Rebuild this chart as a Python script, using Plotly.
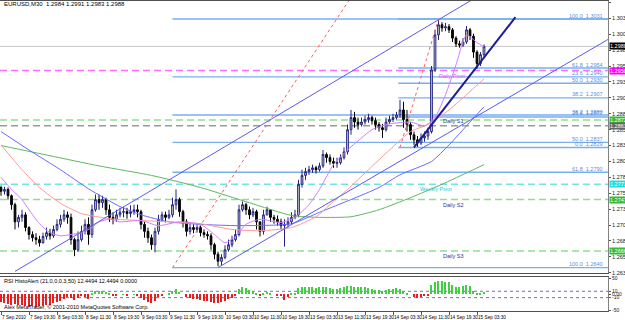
import plotly.graph_objects as go

# ---------------- data (one bar per hour of the M30 chart) ----------------
first_open = 1.2766
closes = [1.2760, 1.2763, 1.2753, 1.2739, 1.2712, 1.2719, 1.2723, 1.2703, 1.2692, 1.2687,
          1.2684, 1.2679, 1.2689, 1.2695, 1.2690, 1.2700, 1.2708, 1.2716, 1.2723, 1.2719,
          1.2684, 1.2668, 1.2684, 1.2697, 1.2708, 1.2692, 1.2731, 1.2747, 1.2742, 1.2747,
          1.2731, 1.2719, 1.2716, 1.2723, 1.2727, 1.2728, 1.2725, 1.2728, 1.2731, 1.2728,
          1.2708, 1.2697, 1.2687, 1.2676, 1.2697, 1.2716, 1.2723, 1.2719, 1.2723, 1.2739,
          1.2747, 1.2728, 1.2712, 1.2697, 1.2703, 1.2700, 1.2703, 1.2695, 1.2692, 1.2690,
          1.2676, 1.2661, 1.2650, 1.2656, 1.2668, 1.2676, 1.2684, 1.2692, 1.2731, 1.2739,
          1.2731, 1.2723, 1.2728, 1.2712, 1.2697, 1.2723, 1.2731, 1.2719, 1.2716, 1.2712,
          1.2706, 1.2708, 1.2712, 1.2719, 1.2723, 1.2771, 1.2785, 1.2791, 1.2794, 1.2797,
          1.2794, 1.2800, 1.2818, 1.2813, 1.2807, 1.2804, 1.2805, 1.2813, 1.2822, 1.2857,
          1.2876, 1.2869, 1.2865, 1.2869, 1.2873, 1.2876, 1.2871, 1.2865, 1.2860, 1.2857,
          1.2869, 1.2873, 1.2876, 1.2880, 1.2888, 1.2873, 1.2865, 1.2849, 1.2841, 1.2836,
          1.2844, 1.2847, 1.2854, 1.2951, 1.3006, 1.3022, 1.3017, 1.3019, 1.3014, 1.3001,
          1.2992, 1.2990, 1.2995, 1.3014, 1.3004, 1.2979, 1.2961, 1.2975, 1.2988]
highs = [1.2769, 1.2767, 1.2766, 1.2755, 1.2742, 1.2723, 1.2731, 1.2727, 1.2705, 1.2697,
         1.2694, 1.2690, 1.2695, 1.2703, 1.2701, 1.2706, 1.2716, 1.2723, 1.2731, 1.2728,
         1.2725, 1.2687, 1.2697, 1.2706, 1.2716, 1.2719, 1.2739, 1.2755, 1.2755, 1.2753,
         1.2750, 1.2739, 1.2727, 1.2731, 1.2734, 1.2736, 1.2734, 1.2738, 1.2739, 1.2739,
         1.2731, 1.2712, 1.2703, 1.2692, 1.2703, 1.2723, 1.2728, 1.2728, 1.2731, 1.2750,
         1.2763, 1.2750, 1.2731, 1.2716, 1.2709, 1.2708, 1.2708, 1.2706, 1.2700, 1.2697,
         1.2694, 1.2679, 1.2665, 1.2661, 1.2675, 1.2684, 1.2690, 1.2700, 1.2739, 1.2744,
         1.2742, 1.2736, 1.2734, 1.2731, 1.2712, 1.2731, 1.2736, 1.2731, 1.2723, 1.2722,
         1.2717, 1.2716, 1.2719, 1.2727, 1.2731, 1.2778, 1.2794, 1.2797, 1.2800, 1.2802,
         1.2800, 1.2805, 1.2825, 1.2821, 1.2818, 1.2813, 1.2813, 1.2818, 1.2829, 1.2865,
         1.2888, 1.2885, 1.2876, 1.2876, 1.2879, 1.2882, 1.2879, 1.2876, 1.2869, 1.2866,
         1.2876, 1.2879, 1.2882, 1.2885, 1.2904, 1.2901, 1.2888, 1.2869, 1.2854, 1.2847,
         1.2851, 1.2854, 1.2860, 1.2957, 1.3014, 1.3030, 1.3026, 1.3025, 1.3023, 1.3017,
         1.3004, 1.2997, 1.3001, 1.3020, 1.3017, 1.3008, 1.2982, 1.2979, 1.2991]
lows = [1.2753, 1.2755, 1.2747, 1.2731, 1.2700, 1.2703, 1.2712, 1.2697, 1.2684, 1.2681,
        1.2676, 1.2673, 1.2678, 1.2684, 1.2684, 1.2687, 1.2697, 1.2703, 1.2712, 1.2709,
        1.2676, 1.2658, 1.2665, 1.2681, 1.2692, 1.2676, 1.2687, 1.2728, 1.2731, 1.2734,
        1.2723, 1.2712, 1.2708, 1.2712, 1.2719, 1.2719, 1.2717, 1.2719, 1.2723, 1.2719,
        1.2700, 1.2687, 1.2679, 1.2668, 1.2664, 1.2692, 1.2712, 1.2711, 1.2716, 1.2719,
        1.2731, 1.2720, 1.2703, 1.2689, 1.2692, 1.2694, 1.2695, 1.2689, 1.2687, 1.2684,
        1.2668, 1.2653, 1.2642, 1.2643, 1.2653, 1.2665, 1.2672, 1.2681, 1.2689, 1.2728,
        1.2723, 1.2716, 1.2719, 1.2700, 1.2689, 1.2692, 1.2722, 1.2712, 1.2709, 1.2706,
        1.2700, 1.2673, 1.2703, 1.2708, 1.2716, 1.2719, 1.2766, 1.2778, 1.2786, 1.2789,
        1.2788, 1.2791, 1.2797, 1.2805, 1.2802, 1.2797, 1.2797, 1.2802, 1.2810, 1.2818,
        1.2849, 1.2860, 1.2857, 1.2862, 1.2865, 1.2868, 1.2865, 1.2857, 1.2854, 1.2844,
        1.2854, 1.2866, 1.2869, 1.2873, 1.2876, 1.2860, 1.2854, 1.2841, 1.2833, 1.2830,
        1.2833, 1.2838, 1.2841, 1.2851, 1.2948, 1.2998, 1.3011, 1.3012, 1.3009, 1.2995,
        1.2987, 1.2986, 1.2987, 1.2992, 1.2998, 1.2970, 1.2953, 1.2957, 1.2972]

rsi_hist = [-25, -28, -30, -32, -30, -32, -34, -36, -38, -36,
            -38, -37, -35, -33, -32, -28, -24, -20, -15, -8,
            -12, -18, -10, -5, -8, -15, 3, 10, 12, 11,
            8, 2, -3, -2, 0, 1, -2, 0, 1, -2,
            -10, -18, -24, -28, -22, -8, -3, 0, 5, 12,
            16, 8, 0, -8, -12, -14, -15, -18, -20, -20,
            -24, -27, -28, -25, -20, -15, -10, -4, 18, 22,
            20, 15, 12, 3, -2, 5, 8, 3, 0, -3,
            -6, -18, -8, 2, 6, 20, 24, 22, 22, 24,
            20, 22, 25, 22, 20, 18, 18, 20, 22, 26,
            28, 25, 22, 22, 22, 20, 18, 15, 14, 12,
            15, 16, 17, 20, 18, 12, 6, 0, -8, -10,
            -7, -5, -2, 30, 40, 44, 42, 40, 38, 30,
            25, 24, 26, 30, 26, 12, 3, 5, 8]

# moving averages (bar index, price)
ma_fast_bars = [0, 3, 6, 8, 11, 14, 17, 20, 23, 26, 28, 31, 34, 40, 45, 51, 57, 61, 64, 67,
                70, 74, 80, 84, 88, 91, 95, 100, 103, 106, 111, 117, 121, 124, 127, 130, 133, 136, 138]
ma_fast_vals = [1.2782, 1.2763, 1.2747, 1.2731, 1.2709, 1.2695, 1.2690, 1.2692, 1.2695, 1.2703,
                1.2712, 1.2716, 1.2712, 1.2714, 1.2706, 1.2712, 1.2708, 1.2692, 1.2679, 1.2689,
                1.2708, 1.2716, 1.2711, 1.2719, 1.2739, 1.2763, 1.2802, 1.2830, 1.2844, 1.2857,
                1.2866, 1.2869, 1.2863, 1.2876, 1.2912, 1.2959, 1.3006, 1.2994, 1.2987]
ma_mid_bars = [0, 6, 11, 17, 23, 31, 40, 48, 57, 66, 74, 83, 90, 94, 99, 105, 111, 117, 122, 128, 134, 138]
ma_mid_vals = [1.2833, 1.2794, 1.2766, 1.2741, 1.2725, 1.2717, 1.2714, 1.2712, 1.2709, 1.2700,
               1.2698, 1.2703, 1.2720, 1.2739, 1.2763, 1.2794, 1.2825, 1.2854, 1.2865, 1.2888,
               1.2917, 1.2937]
ma_blue_bars = [0, 8, 17, 25, 34, 40, 48, 57, 68, 83, 91, 100, 108, 114, 123, 128, 134, 138]
ma_blue_vals = [1.2854, 1.2825, 1.2794, 1.2764, 1.2736, 1.2723, 1.2712, 1.2708, 1.2706, 1.2709,
                1.2727, 1.2747, 1.2766, 1.2786, 1.2807, 1.2833, 1.2869, 1.2893]
ma_slow_bars = [0, 14, 28, 43, 57, 71, 83, 91, 100, 108, 117, 126, 138]
ma_slow_vals = [1.2832, 1.2816, 1.2800, 1.2785, 1.2766, 1.2742, 1.2722, 1.2719, 1.2720, 1.2731,
                1.2750, 1.2771, 1.2802]

# trend lines (bar index, price) anchor pairs
chan_up_bars, chan_up_vals = [4, 140], [1.2634, 1.3079]
chan_lo_bars, chan_lo_vals = [62, 175], [1.2640, 1.3004]
trend_bars, trend_vals = [118, 147], [1.2829, 1.3034]
fibdiag1_bars, fibdiag1_vals = [49, 99.5], [1.2640, 1.3061]
fibdiag2_bars, fibdiag2_vals = [114, 125], [1.2829, 1.3031]

# Fibonacci retracements
fib2_start = 113.5
fib2_pcts = ["100.0", "61.8", "50.0", "38.2", "23.6", "0.0"]
fib2_prices = [1.3031, 1.2954, 1.2930, 1.2907, 1.2877, 1.2829]
fib1_start = 49
fib1_pcts = ["0.0", "23.6", "38.2", "50.0", "61.8", "100.0"]
fib1_prices = [1.3031, 1.2940, 1.2880, 1.2837, 1.2790, 1.2640]

# pivot levels
pivot_names = ["Daily Pivot", "", "Daily S1", "Weekly Pivot", "Daily S2", "Daily S3"]
pivot_prices = [1.2950, 1.2872, 1.2863, 1.2771, 1.2747, 1.2666]

# axis ticks
y_ticks = [1.2632, 1.2657, 1.2682, 1.2707, 1.2732, 1.2757, 1.2782, 1.2807, 1.2832, 1.2857,
           1.2882, 1.2907, 1.2932, 1.2957, 1.2982, 1.3007, 1.3032, 1.3057]
tick_bars = [0, 8, 16, 24, 32, 40, 48, 56, 64, 72, 80, 88, 96, 104, 112, 120, 128, 136]
tick_labels = ["7 Sep 2010", "7 Sep 19:30", "8 Sep 03:30", "8 Sep 11:30", "8 Sep 19:30",
               "9 Sep 03:30", "9 Sep 11:30", "9 Sep 19:30", "10 Sep 03:30", "10 Sep 11:30",
               "10 Sep 19:30", "13 Sep 03:30", "13 Sep 11:30", "13 Sep 19:30", "14 Sep 03:30",
               "14 Sep 11:30", "14 Sep 19:30", "15 Sep 03:30"]
rsi_ticks = [50, 10, 0, -10, -50]
rsi_ticktext = ["50", "10", "0.00", "-10", "-50"]
rsi_levels = [10, -10]

title_text = "EURUSD,M30  1.2984 1.2991 1.2983 1.2988"
ind_text = "RSI HistoAlert (21,0,0,0,3,50) 12.4494 12.4494 0.0000"
copy_text = "Alex MetaTrader, \u00a9 2001-2010 MetaQuotes Software Corp."

# ---------------- styling ----------------
FONT = "Liberation Sans"
X_MIN, X_MAX = -0.29, 173.43
Y_MIN, Y_MAX = 1.26315, 1.30594
bars = list(range(len(closes)))
opens = [first_open] + closes[:-1]
highs = [max(h, o, c) for h, o, c in zip(highs, opens, closes)]
lows = [min(l, o, c) for l, o, c in zip(lows, opens, closes)]

fig = go.Figure()
shapes = []
annos = []

FIBC = "#7aaef0"
for price in fib1_prices:
    shapes.append(dict(type="line", xref="x", yref="y", x0=fib1_start, x1=X_MAX, y0=price, y1=price,
                       line=dict(color=FIBC, width=1.4), layer="below"))
for price in fib2_prices:
    shapes.append(dict(type="line", xref="x", yref="y", x0=fib2_start, x1=X_MAX, y0=price, y1=price,
                       line=dict(color=FIBC, width=1.4), layer="below"))
labeled = set()
for pct, price in list(zip(fib2_pcts, fib2_prices)) + list(zip(fib1_pcts, fib1_prices)):
    if price in labeled:
        continue
    labeled.add(price)
    annos.append(dict(x=X_MAX - 0.8, y=price, xref="x", yref="y", text=f"{pct}  {price:.4f}",
                      showarrow=False, xanchor="right", yanchor="bottom", yshift=-1.5,
                      font=dict(family=FONT, size=5.5, color="#5a8fe0")))

pivot_colors = ["#ff6cff", "#8ee08e", "#9a9a9a", "#6fe6e6", "#8ee08e", "#8ee08e"]
pivot_box = ["#ff00ff", "#33bb33", "#666666", "#22dddd", "#33bb33", "#33bb33"]
pivot_label_x = [124.5, None, 125.7, 119.0, 125.7, 125.7]
pivot_label_anchor = ["top", None, "bottom", "top", "top", "top"]
pivot_text_color = ["#ff44ff", None, "#333399", "#22cccc", "#333399", "#333399"]
for i, price in enumerate(pivot_prices):
    shapes.append(dict(type="line", xref="x", yref="y", x0=X_MIN, x1=X_MAX, y0=price, y1=price,
                       line=dict(color=pivot_colors[i], width=1.5, dash="7px,4px"), layer="below"))
    if pivot_names[i]:
        annos.append(dict(x=pivot_label_x[i], y=price, xref="x", yref="y", text=pivot_names[i],
                          showarrow=False, xanchor="left", yanchor=pivot_label_anchor[i],
                          font=dict(family=FONT, size=5.5, color=pivot_text_color[i])))
    annos.append(dict(x=1.002, y=price, xref="paper", yref="y", text=f"{price:.4f}",
                      showarrow=False, xanchor="left", yanchor="middle", bgcolor=pivot_box[i],
                      borderpad=0, font=dict(family=FONT, size=5.5, color="#ffffff")))

# current price line
shapes.append(dict(type="line", xref="x", yref="y", x0=X_MIN, x1=X_MAX, y0=closes[-1], y1=closes[-1],
                   line=dict(color="#c8c8c8", width=1), layer="below"))
annos.append(dict(x=1.002, y=closes[-1], xref="paper", yref="y", text=f"{closes[-1]:.4f}",
                  showarrow=False, xanchor="left", yanchor="middle", bgcolor="#000000",
                  borderpad=0, font=dict(family=FONT, size=5.5, color="#ffffff")))

for lvl in rsi_levels:
    shapes.append(dict(type="line", xref="x2", yref="y2", x0=X_MIN, x1=X_MAX, y0=lvl, y1=lvl,
                       line=dict(color="#7070c0", width=1, dash="dot"), layer="below"))

fig.add_trace(go.Candlestick(
    x=bars, open=opens, high=highs, low=lows, close=closes, xaxis="x", yaxis="y",
    increasing=dict(line=dict(color="#23237e", width=1), fillcolor="#d8d8d8"),
    decreasing=dict(line=dict(color="#000000", width=1), fillcolor="#000000"),
    whiskerwidth=0, hoverinfo="skip", showlegend=False))

def add_line(xs, ys, color, width=1, dash="solid", shape="spline"):
    fig.add_trace(go.Scatter(x=xs, y=ys, mode="lines", xaxis="x", yaxis="y",
                             line=dict(color=color, width=width, dash=dash, shape=shape,
                                       smoothing=0.6 if shape == "spline" else None),
                             hoverinfo="skip", showlegend=False))

add_line(ma_slow_bars, ma_slow_vals, "#5fb85f")
add_line(ma_blue_bars, ma_blue_vals, "#6a6aff")
add_line(ma_mid_bars, ma_mid_vals, "#ff9a9a")
add_line(ma_fast_bars, ma_fast_vals, "#d27cff")
add_line(chan_up_bars, chan_up_vals, "#5a5aee", 1, shape="linear")
add_line(chan_lo_bars, chan_lo_vals, "#5a5aee", 1, shape="linear")
add_line(fibdiag1_bars, fibdiag1_vals, "#ff5a5a", 1, dash="dot", shape="linear")
add_line(fibdiag2_bars, fibdiag2_vals, "#ff5a5a", 1, dash="dot", shape="linear")
add_line(trend_bars, trend_vals, "#1c1c96", 2, shape="linear")

fig.add_trace(go.Bar(x=bars, y=rsi_hist, xaxis="x2", yaxis="y2", width=0.55,
                     marker=dict(color=["#3fcf3f" if v >= 0 else "#e61e1e" for v in rsi_hist],
                                 line=dict(width=0)),
                     hoverinfo="skip", showlegend=False))

# texts
annos.append(dict(x=0.004, y=0.99, xref="paper", yref="paper", text=title_text, showarrow=False,
                  xanchor="left", yanchor="middle", font=dict(family=FONT, size=6, color="#000000")))
annos.append(dict(x=0.004, y=0.098, xref="paper", yref="paper", text=ind_text, showarrow=False,
                  xanchor="left", yanchor="middle", font=dict(family=FONT, size=5.5, color="#000000")))
annos.append(dict(x=0.004, y=0.013, xref="paper", yref="paper", text=copy_text, showarrow=False,
                  xanchor="left", yanchor="middle", font=dict(family=FONT, size=5.5, color="#000000")))
for b, t in zip(tick_bars, tick_labels):
    annos.append(dict(x=b, y=-0.008, xref="x2", yref="paper", text=t, showarrow=False,
                      xanchor="left", yanchor="top", xshift=-1,
                      font=dict(family=FONT, size=4.7, color="#000000")))

axis_common = dict(showgrid=False, zeroline=False, fixedrange=True, automargin=False)
fig.update_layout(
    width=625, height=320, margin=dict(l=0, r=17, t=1, b=9),
    paper_bgcolor="#ffffff", plot_bgcolor="#ffffff", bargap=0,
    shapes=shapes, annotations=annos,
    xaxis=dict(domain=[0, 1], anchor="y", range=[X_MIN, X_MAX], showticklabels=False,
               showline=True, linecolor="#505050", linewidth=1, mirror=True, ticks="",
               rangeslider=dict(visible=False), **axis_common),
    yaxis=dict(domain=[0.1226, 1], anchor="x", range=[Y_MIN, Y_MAX], side="right",
               tickvals=y_ticks, ticktext=[f"{v:.4f}" for v in y_ticks], ticks="outside",
               ticklen=2, tickcolor="#555555", showline=True, linecolor="#808080", mirror=True,
               tickfont=dict(family=FONT, size=5.5, color="#222222"), **axis_common),
    xaxis2=dict(domain=[0, 1], anchor="y2", range=[X_MIN, X_MAX], showticklabels=False,
                tickvals=tick_bars, ticks="outside", ticklen=3, tickcolor="#555555",
                showline=True, linecolor="#505050", mirror=True, **axis_common),
    yaxis2=dict(domain=[0, 0.1097], anchor="x2", range=[-52, 55], side="right",
                tickvals=rsi_ticks, ticktext=rsi_ticktext, ticks="outside", ticklen=2,
                tickcolor="#555555", showline=True, linecolor="#808080", mirror=True,
                tickfont=dict(family=FONT, size=5, color="#222222"), **axis_common),
)

fig.write_html("out.html")
